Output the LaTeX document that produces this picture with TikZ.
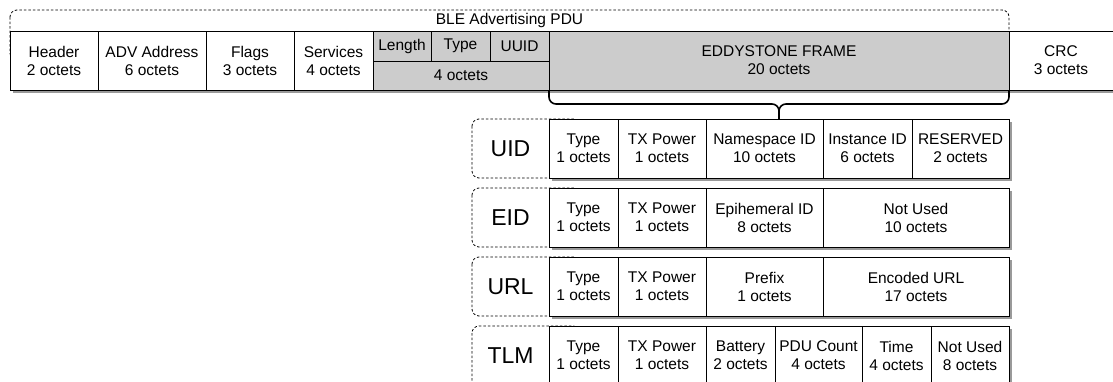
\documentclass[tikz,border=0pt]{standalone}
\usepackage{fontspec}
\setmainfont{Liberation Sans}
\definecolor{boxgray}{HTML}{CCCCCC}
\definecolor{shadowgray}{HTML}{9A9A9A}
\newcommand{\cellfont}{\fontsize{15.5}{18}\selectfont}
\newcommand{\bigfont}{\fontsize{23}{27}\selectfont}
\tikzset{
  cell/.style={draw=black, line width=1pt, fill=white, anchor=north west,
    inner sep=0pt, outer sep=0pt, align=center, font=\cellfont},
  gcell/.style={cell, fill=boxgray},
  rowshadow/.style={fill=shadowgray},
  group/.style={draw=black, line width=0.8pt, dash pattern=on 2.5pt off 2pt,
    rounded corners=7pt},
  grouplabel/.style={font=\cellfont, inner sep=0pt},
  tag/.style={font=\bigfont, inner sep=0pt},
  brace/.style={draw=black, line width=1.6pt, rounded corners=7pt},
}
% field: style, name, x1, x2, y1, y2, text
\newcommand{\fld}[7]{%
  \node[#1, minimum width={(#4)-(#3)}, minimum height={(#6)-(#5)}] (#2) at (#3,#5) {#7};}
\begin{document}
\begin{tikzpicture}[x=1pt, y=-1pt]
  \useasboundingbox (0,0) rectangle (1113,381);
  \clip (0,0) rectangle (1113,381);

  % advertising PDU grouping
  \draw[group] (10,10) rectangle (1009,60);
  \node[grouplabel] (pdu) at (509.5,20) {BLE Advertising PDU};

  % PDU row
  \fill[rowshadow] (13,34) rectangle (1125,93);
  \fld{cell}{hdr}{10}{98}{31}{90}{Header\\2 octets}
  \fld{cell}{adv}{98}{206}{31}{90}{ADV Address\\6 octets}
  \fld{cell}{flags}{206}{294}{31}{90}{Flags\\3 octets}
  \fld{cell}{svc}{294}{373}{31}{90}{Services\\4 octets}
  \fld{gcell}{len}{373}{431}{31}{61}{Length}
  \fld{gcell}{typ}{431}{490}{31}{61}{Type}
  \fld{gcell}{uuid}{490}{549}{31}{61}{UUID}
  \fld{gcell}{four}{373}{549}{61}{90}{4 octets}
  \fld{gcell}{eddy}{549}{1009}{31}{90}{EDDYSTONE FRAME\\20 octets}
  \fld{cell}{crc}{1009}{1125}{31}{90}{}
  \node[font=\cellfont, align=center] (crctext) at (1061,60.5) {CRC\\3 octets};

  % brace from the Eddystone frame to the frame types
  \coordinate (tip) at (779,104);
  \coordinate (tipend) at (779,119);
  \draw[brace] (eddy.south west) |- (tip) -- (tipend);
  \draw[brace] (eddy.south east) |- (tip) -- (tipend);

  % frame type groupings
  \draw[group] (472,119) rectangle (580,178);
  \draw[group] (472,188) rectangle (580,247);
  \draw[group] (472,257) rectangle (580,316);
  \draw[group] (472,326) rectangle (580,395);
  \node[tag] (uidtag) at (510.5,148.5) {UID};
  \node[tag] (eidtag) at (510.5,217.5) {EID};
  \node[tag] (urltag) at (510.5,286.5) {URL};
  \node[tag] (tlmtag) at (510.5,355.5) {TLM};

  % UID frame
  \fill[rowshadow] (552,122) rectangle (1012,181);
  \fld{cell}{uidtype}{549}{618}{119}{178}{Type\\1 octets}
  \fld{cell}{uidtx}{618}{706}{119}{178}{TX Power\\1 octets}
  \fld{cell}{uidns}{706}{823}{119}{178}{Namespace ID\\10 octets}
  \fld{cell}{uidinst}{823}{912}{119}{178}{Instance ID\\6 octets}
  \fld{cell}{uidres}{912}{1009}{119}{178}{RESERVED\\2 octets}

  % EID frame
  \fill[rowshadow] (552,191) rectangle (1012,250);
  \fld{cell}{eidtype}{549}{618}{188}{247}{Type\\1 octets}
  \fld{cell}{eidtx}{618}{706}{188}{247}{TX Power\\1 octets}
  \fld{cell}{eideph}{706}{823}{188}{247}{Epihemeral ID\\8 octets}
  \fld{cell}{eidnu}{823}{1009}{188}{247}{Not Used\\10 octets}

  % URL frame
  \fill[rowshadow] (552,260) rectangle (1012,319);
  \fld{cell}{urltype}{549}{618}{257}{316}{Type\\1 octets}
  \fld{cell}{urltx}{618}{706}{257}{316}{TX Power\\1 octets}
  \fld{cell}{urlpre}{706}{823}{257}{316}{Prefix\\1 octets}
  \fld{cell}{urlenc}{823}{1009}{257}{316}{Encoded URL\\17 octets}

  % TLM frame
  \fill[rowshadow] (552,329) rectangle (1012,388);
  \fld{cell}{tlmtype}{549}{618}{326}{385}{Type\\1 octets}
  \fld{cell}{tlmtx}{618}{706}{326}{385}{TX Power\\1 octets}
  \fld{cell}{tlmbat}{706}{775}{326}{385}{Battery\\2 octets}
  \fld{cell}{tlmpdu}{775}{862}{326}{385}{PDU Count\\4 octets}
  \fld{cell}{tlmtime}{862}{931}{326}{385}{Time\\4 octets}
  \fld{cell}{tlmnu}{931}{1009}{326}{385}{Not Used\\8 octets}
\end{tikzpicture}
\end{document}
